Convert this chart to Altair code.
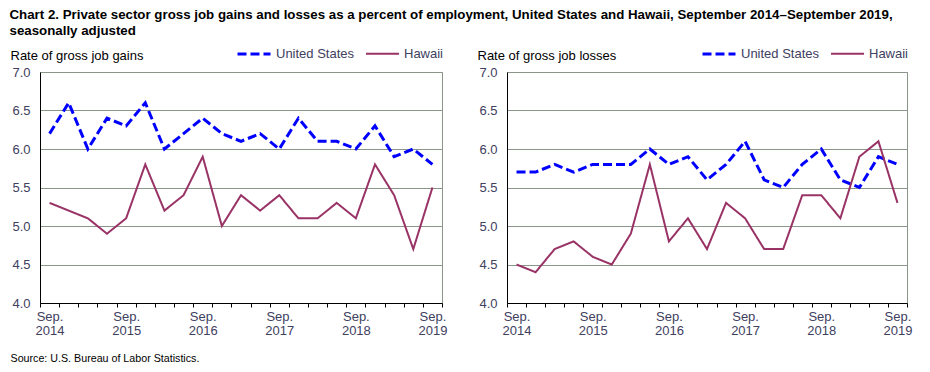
import altair as alt
import pandas as pd
import json

quarters = ["Sep. 2014", "Dec. 2014", "Mar. 2015", "Jun. 2015", "Sep. 2015", "Dec. 2015",
            "Mar. 2016", "Jun. 2016", "Sep. 2016", "Dec. 2016", "Mar. 2017", "Jun. 2017",
            "Sep. 2017", "Dec. 2017", "Mar. 2018", "Jun. 2018", "Sep. 2018", "Dec. 2018",
            "Mar. 2019", "Jun. 2019", "Sep. 2019"]
series_names = ["United States", "Hawaii"]

gains_us = [6.2, 6.6, 6.0, 6.4, 6.3, 6.6, 6.0, 6.2, 6.4, 6.2, 6.1, 6.2, 6.0, 6.4, 6.1, 6.1, 6.0, 6.3, 5.9, 6.0, 5.8]
gains_hi = [5.3, 5.2, 5.1, 4.9, 5.1, 5.8, 5.2, 5.4, 5.9, 5.0, 5.4, 5.2, 5.4, 5.1, 5.1, 5.3, 5.1, 5.8, 5.4, 4.7, 5.5]
losses_us = [5.7, 5.7, 5.8, 5.7, 5.8, 5.8, 5.8, 6.0, 5.8, 5.9, 5.6, 5.8, 6.1, 5.6, 5.5, 5.8, 6.0, 5.6, 5.5, 5.9, 5.8]
losses_hi = [4.5, 4.4, 4.7, 4.8, 4.6, 4.5, 4.9, 5.8, 4.8, 5.1, 4.7, 5.3, 5.1, 4.7, 4.7, 5.4, 5.4, 5.1, 5.9, 6.1, 5.3]

y_ticks = [4.0, 4.5, 5.0, 5.5, 6.0, 6.5, 7.0]

title_lines = ["Chart 2. Private sector gross job gains and losses as a percent of employment, United States and Hawaii, September 2014\u2013September 2019,",
               "seasonally adjusted"]
source_text = "Source: U.S. Bureau of Labor Statistics."

n = len(quarters)
# axis positions: category centres (labels) and category boundaries (tick marks)
x_axis_values = [i * 0.5 - 0.5 for i in range(2 * n + 1)]
quarters_js = json.dumps(quarters)


def long_df(us, hi):
    rows = []
    for i, v in enumerate(us):
        rows.append({"idx": i, "quarter": quarters[i], "series": series_names[0], "value": v})
    for i, v in enumerate(hi):
        rows.append({"idx": i, "quarter": quarters[i], "series": series_names[1], "value": v})
    return pd.DataFrame(rows)


FONT = "Liberation Sans, Arial, sans-serif"
LABEL_COLOR = "#404060"
FRAME_COLOR = "#8a968a"


def panel(df, ytitle, w, xtitle=""):
    leg = alt.Legend(title=None, orient="none", legendX=w - 206, legendY=-36,
                     direction="horizontal", symbolType="stroke", symbolSize=1089,
                     labelFontSize=13, labelColor=LABEL_COLOR, labelFont=FONT,
                     columnPadding=7, labelOffset=4)
    label_expr = ("(datum.value % 1 == 0 && indexof(" + quarters_js +
                  "[datum.value], 'Sep.') == 0) ? split(" + quarters_js + "[datum.value], ' ') : ''")
    xaxis_kwargs = dict(values=x_axis_values, labelAngle=0, labelOverlap=False,
                        labelExpr=label_expr,
                        tickOpacity={"condition": {"test": "datum.value % 1 == 0", "value": 0}, "value": 1},
                        domainColor="black", tickColor="black", tickSize=4,
                        labelColor=LABEL_COLOR, labelFontSize=13, labelFont=FONT,
                        labelPadding=3, labelLineHeight=14, grid=False)
    if xtitle:
        xaxis_kwargs.update(title=xtitle, titleAnchor="start", titleAlign="left",
                            titleX=-30, titleY=55, titleBaseline="middle",
                            titleFontSize=10.7, titleFontWeight="normal", titleColor="black",
                            titleFont=FONT)
    else:
        xaxis_kwargs.update(title=None)
    x = alt.X("idx:Q", scale=alt.Scale(domain=[-0.5, n - 0.5], nice=False, zero=False),
              axis=alt.Axis(**xaxis_kwargs))
    y = alt.Y("value:Q", scale=alt.Scale(domain=[4, 7], nice=False, zero=False),
              axis=alt.Axis(values=y_ticks, format=".1f", title=ytitle, titleAngle=0,
                            titleAlign="left", titleX=-30, titleY=-17, titleBaseline="middle",
                            titleFontWeight="normal", titleFontSize=13, titleColor="black",
                            titleFont=FONT,
                            labelColor=LABEL_COLOR, labelFontSize=13, labelFont=FONT,
                            tickSize=0, labelPadding=10, domainColor="black",
                            gridColor=FRAME_COLOR, grid=True))
    return alt.Chart(df).mark_line().encode(
        x=x, y=y,
        color=alt.Color("series:N", scale=alt.Scale(domain=series_names, range=["#0000ff", "#993366"]), legend=leg),
        strokeDash=alt.StrokeDash("series:N", scale=alt.Scale(domain=series_names, range=[[9, 4], [1, 0]]), legend=leg),
        strokeWidth=alt.StrokeWidth("series:N", scale=alt.Scale(domain=series_names, range=[3, 2]), legend=leg),
        order="idx:Q",
    ).properties(width=w, height=231)


left = panel(long_df(gains_us, gains_hi), "Rate of gross job gains", 402, source_text)
right = panel(long_df(losses_us, losses_hi), "Rate of gross job losses", 400)

chart = alt.hconcat(left, right, spacing=28).resolve_scale(
    color="independent", strokeDash="independent", strokeWidth="independent"
).properties(
    title=alt.TitleParams(text=title_lines, anchor="start", fontSize=13.3,
                          font="Liberation Sans Narrow, Arial Narrow, Liberation Sans, sans-serif",
                          fontWeight="bold", lineHeight=16, offset=-2, color="black"),
    padding={"left": 1, "top": 0, "right": 5, "bottom": 5},
).configure_view(stroke=FRAME_COLOR)

chart.save("out.html", embed_options={"renderer": "svg", "actions": False})
